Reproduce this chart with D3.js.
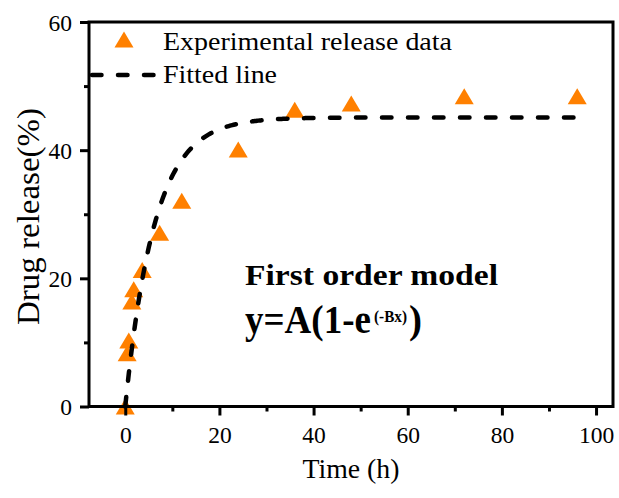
<!DOCTYPE html>
<html>
<head>
<meta charset="utf-8">
<script src="https://cdn.jsdelivr.net/npm/d3@7/dist/d3.min.js"></script>
<style>
  html, body { margin: 0; padding: 0; background: #fff; }
  svg { display: block; }
  text { font-family: "Liberation Serif", "Times New Roman", serif; fill: #000; }
</style>
</head>
<body>
<svg id="chart" width="619" height="498"></svg>
<script>
// Cumulative drug release measured over time
const timeH = [0, 0.4, 0.75, 1.4, 1.8, 3.6, 7.3, 12, 24, 36, 48, 72, 96];
const releasePct = [0, 8.3, 10.3, 16.4, 18.3, 21.3, 27.1, 32.1, 40.1, 46.3, 47.3, 48.4, 48.4];

// First order model parameters: y = A(1 - e^(-Bx))
const fitA = 45.1;
const fitB = 0.16;
const fitRange = [0, 96];

const xTicks = [0, 20, 40, 60, 80, 100];
const xMinorTicks = [10, 30, 50, 70, 90];
const yTicks = [0, 20, 40, 60];
const yMinorTicks = [10, 30, 50];

const legendLabels = ["Experimental release data", "Fitted line"];

const svg = d3.select("#chart");
const plot = { left: 89, right: 613, top: 22, bottom: 406.5 };

const x = d3.scaleLinear().domain([-7.7, 103.6]).range([plot.left, plot.right]);
const y = d3.scaleLinear().domain([0, 60]).range([plot.bottom, plot.top]);

const orange = "#FF8000";
const dash = "9.5 16.5";
const serif = "Liberation Serif, Times New Roman, serif";

// Upward triangle centred on its bounding box
const triW = 19, triH = 16;
const triPath = `M0,${-triH / 2}L${triW / 2},${triH / 2}L${-triW / 2},${triH / 2}Z`;

// Stretched text helper: fixes the drawn width of a label
function label(parent, px, py, str, size, width, opts = {}) {
  const t = parent.append("text")
    .attr("x", px).attr("y", py)
    .attr("font-size", size)
    .attr("textLength", width)
    .attr("lengthAdjust", "spacingAndGlyphs")
    .text(str);
  if (opts.bold) t.attr("font-weight", "bold");
  if (opts.anchor) t.attr("text-anchor", opts.anchor);
  if (opts.transform) t.attr("transform", opts.transform);
  return t;
}

// Data markers
svg.append("g").selectAll("path")
  .data(timeH.map((t, i) => [t, releasePct[i]]))
  .join("path")
  .attr("d", triPath)
  .attr("transform", d => `translate(${x(d[0])},${y(d[1])})`)
  .attr("fill", orange);

// Axes
const xAxis = svg.append("g").attr("transform", `translate(0,${plot.bottom})`)
  .call(d3.axisBottom(x).tickValues(xTicks).tickSize(9).tickSizeOuter(0));
const xMinor = svg.append("g").attr("transform", `translate(0,${plot.bottom})`)
  .call(d3.axisBottom(x).tickValues(xMinorTicks).tickSize(5).tickFormat(""));
const yAxis = svg.append("g").attr("transform", `translate(${plot.left},0)`)
  .call(d3.axisLeft(y).tickValues(yTicks).tickSize(9).tickSizeOuter(0));
const yMinor = svg.append("g").attr("transform", `translate(${plot.left},0)`)
  .call(d3.axisLeft(y).tickValues(yMinorTicks).tickSize(5).tickFormat(""));

[xAxis, xMinor, yAxis, yMinor].forEach(g => {
  g.select(".domain").remove();
  g.selectAll("line").attr("stroke", "#000").attr("stroke-width", 3);
});
xAxis.selectAll("text")
  .attr("y", 36.5).attr("dy", null)
  .attr("font-size", 23.5).attr("font-family", serif).attr("fill", "#000");
yAxis.selectAll("text")
  .attr("x", -17).attr("dy", "0.34em")
  .attr("font-size", 23.5).attr("font-family", serif).attr("fill", "#000");

// Plot frame
svg.append("rect")
  .attr("x", plot.left).attr("y", plot.top)
  .attr("width", plot.right - plot.left).attr("height", plot.bottom - plot.top)
  .attr("fill", "none").attr("stroke", "#000").attr("stroke-width", 3);

// Fitted curve
const fitT = d3.range(fitRange[0], fitRange[1] + 0.001, 0.25);
const line = d3.line().x(t => x(t)).y(t => y(fitA * (1 - Math.exp(-fitB * t))));
svg.append("path")
  .datum(fitT)
  .attr("d", line)
  .attr("fill", "none")
  .attr("stroke", "#000")
  .attr("stroke-width", 4.5)
  .attr("stroke-linecap", "round")
  .attr("stroke-dasharray", dash);

// Legend
svg.append("path").attr("d", triPath).attr("transform", "translate(124,39.5)").attr("fill", orange);
label(svg, 163, 50, legendLabels[0], 25, 289);
svg.append("line")
  .attr("x1", 92).attr("x2", 160).attr("y1", 75).attr("y2", 75)
  .attr("stroke", "#000").attr("stroke-width", 4.5)
  .attr("stroke-linecap", "round").attr("stroke-dasharray", dash);
label(svg, 163, 83, legendLabels[1], 25, 114);

// Model annotation
label(svg, 245, 285, "First order model", 30, 253, { bold: true });
const eq = svg.append("text").attr("y", 333).attr("font-weight", "bold");
eq.append("tspan").attr("x", 245).attr("font-size", 39)
  .attr("textLength", 126).attr("lengthAdjust", "spacingAndGlyphs").text("y=A(1-e");
eq.append("tspan").attr("x", 374).attr("dy", -11).attr("font-size", 17)
  .attr("textLength", 33).attr("lengthAdjust", "spacingAndGlyphs").text("(-Bx)");
eq.append("tspan").attr("x", 409).attr("dy", 11).attr("font-size", 39)
  .attr("textLength", 13).attr("lengthAdjust", "spacingAndGlyphs").text(")");

// Axis titles
label(svg, (plot.left + plot.right) / 2, 478, "Time (h)", 28, 97, { anchor: "middle" });
label(svg, 0, 0, "Drug release(%)", 31, 217,
  { anchor: "middle", transform: `translate(39,216.5) rotate(-90)` });
</script>
</body>
</html>
